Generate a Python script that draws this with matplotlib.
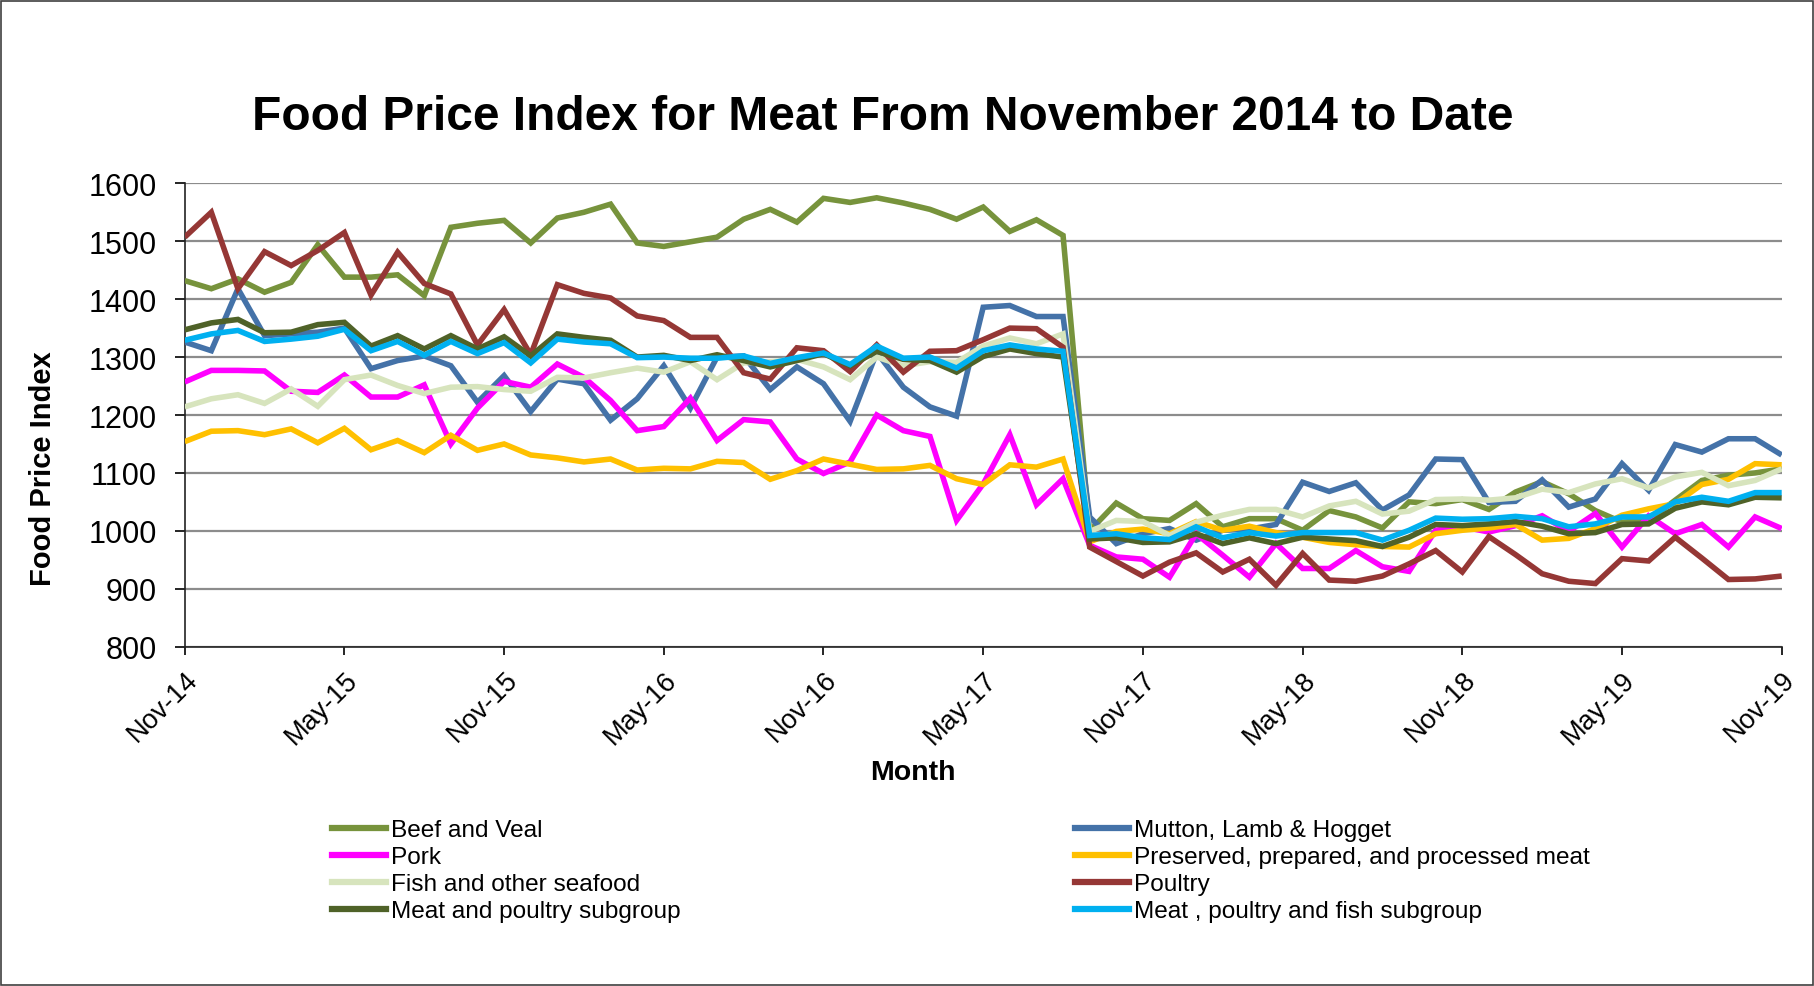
import matplotlib
matplotlib.use("Agg")
import matplotlib.pyplot as plt
from matplotlib.lines import Line2D
from matplotlib.patches import Rectangle

plt.rcParams['font.family'] = ['Liberation Sans', 'DejaVu Sans']

months = ["Nov-14", "May-15", "Nov-15", "May-16", "Nov-16", "May-17",
          "Nov-17", "May-18", "Nov-18", "May-19", "Nov-19"]

beef = [1432, 1418, 1435, 1412, 1429, 1494, 1438, 1438, 1442, 1406, 1524, 1531, 1536, 1497, 1540, 1550,
        1564, 1497, 1491, 1499, 1507, 1538, 1555, 1533, 1574, 1567, 1575, 1566, 1555, 1538, 1559,
        1517, 1537, 1510, 1000, 1048, 1021, 1018, 1047, 1007, 1021, 1021, 1001, 1035, 1024, 1005,
        1050, 1047, 1054, 1037, 1067, 1085, 1064, 1035, 1015, 1018, 1053, 1087, 1096, 1100, 1107]
mutton = [1326, 1311, 1418, 1337, 1340, 1343, 1350, 1280, 1294, 1302, 1285, 1222, 1268, 1206, 1262, 1254,
          1191, 1228, 1285, 1212, 1300, 1302, 1244, 1283, 1254, 1189, 1308, 1248, 1214, 1198, 1386,
          1389, 1370, 1370, 1024, 978, 995, 1004, 984, 1001, 1003, 1011, 1084, 1068, 1083, 1036,
          1062, 1124, 1123, 1049, 1051, 1088, 1041, 1055, 1116, 1070, 1149, 1136, 1159, 1159, 1131]
pork = [1257, 1277, 1277, 1276, 1241, 1239, 1269, 1231, 1231, 1252, 1150, 1212, 1258, 1248, 1288, 1265,
        1225, 1173, 1180, 1229, 1156, 1192, 1188, 1124, 1099, 1119, 1200, 1173, 1163, 1018, 1081,
        1166, 1045, 1090, 975, 955, 951, 920, 995, 958, 920, 978, 935, 935, 966, 938,
        930, 1001, 1007, 998, 1009, 1026, 999, 1030, 972, 1026, 995, 1011, 972, 1024, 1004]
preserved = [1154, 1172, 1173, 1166, 1176, 1152, 1177, 1140, 1156, 1135, 1165, 1139, 1150, 1131, 1126, 1119,
             1124, 1105, 1108, 1107, 1120, 1118, 1089, 1104, 1124, 1115, 1106, 1107, 1113, 1090, 1080,
             1114, 1110, 1124, 981, 999, 1003, 995, 1016, 1001, 1008, 997, 989, 980, 976, 973,
             972, 995, 1001, 1005, 1011, 984, 987, 1004, 1027, 1038, 1047, 1080, 1089, 1116, 1114]
fish = [1214, 1228, 1235, 1220, 1245, 1215, 1261, 1269, 1251, 1237, 1248, 1249, 1244, 1241, 1265, 1264,
        1273, 1281, 1274, 1292, 1261, 1290, 1292, 1296, 1283, 1261, 1300, 1285, 1292, 1291, 1319,
        1333, 1323, 1340, 999, 1018, 1016, 992, 1015, 1027, 1037, 1037, 1024, 1043, 1051, 1029,
        1034, 1054, 1055, 1053, 1057, 1072, 1066, 1081, 1090, 1074, 1093, 1101, 1078, 1087, 1107]
poultry = [1507, 1550, 1418, 1482, 1458, 1484, 1515, 1407, 1481, 1427, 1409, 1321, 1382, 1304, 1425, 1410,
           1402, 1371, 1363, 1334, 1334, 1273, 1262, 1316, 1311, 1275, 1321, 1274, 1310, 1311, 1330,
           1350, 1349, 1317, 972, 947, 922, 946, 962, 929, 951, 906, 961, 915, 913, 922,
           943, 966, 929, 990, 959, 926, 913, 909, 952, 948, 989, 953, 916, 917, 922]
meat_poultry = [1347, 1359, 1365, 1342, 1343, 1356, 1360, 1319, 1337, 1314, 1337, 1314, 1335, 1302, 1340, 1334,
                1329, 1300, 1303, 1294, 1304, 1294, 1283, 1294, 1306, 1285, 1310, 1296, 1294, 1274, 1301,
                1314, 1306, 1300, 986, 988, 980, 981, 995, 978, 988, 978, 989, 986, 983, 973,
                989, 1011, 1009, 1012, 1016, 1008, 995, 997, 1011, 1012, 1039, 1050, 1045, 1058, 1057]
meat_poultry_fish = [1329, 1340, 1346, 1327, 1331, 1336, 1348, 1311, 1327, 1303, 1327, 1306, 1325, 1290, 1331, 1326,
                     1323, 1299, 1300, 1298, 1298, 1302, 1289, 1299, 1307, 1287, 1319, 1298, 1300, 1281, 1311,
                     1321, 1314, 1310, 992, 995, 988, 985, 1007, 988, 997, 991, 997, 997, 997, 984,
                     1001, 1022, 1020, 1021, 1025, 1021, 1007, 1012, 1024, 1024, 1050, 1058, 1051, 1066, 1066]

series = [
    ("Beef and Veal", beef, "#77933C"),
    ("Mutton, Lamb & Hogget", mutton, "#4472A8"),
    ("Pork", pork, "#FF00FF"),
    ("Preserved, prepared, and processed meat", preserved, "#FFC000"),
    ("Fish and other seafood", fish, "#D7E4BD"),
    ("Poultry", poultry, "#953735"),
    ("Meat and poultry subgroup", meat_poultry, "#4F6228"),
    ("Meat , poultry and fish subgroup", meat_poultry_fish, "#00B0F0"),
]

W, H = 1815, 987
fig = plt.figure(figsize=(W / 100, H / 100), dpi=100)
ax = fig.add_axes([184.7 / W, 1 - 647.7 / H, (1781.7 - 184.7) / W, (647.7 - 184.3) / H])

handles = {}
for name, vals, col in series:
    x = list(range(len(vals)))
    ln, = ax.plot(x, vals, color=col, lw=4.0, solid_joinstyle='miter', solid_capstyle='butt', zorder=3)
    handles[name] = ln

ax.set_xlim(0, 60)
ax.set_ylim(800, 1600)
ax.set_yticks(range(800, 1601, 100))
ax.set_xticks(range(0, 61, 6))
ax.set_xticklabels(months, rotation=45, ha='right', va='top', rotation_mode='anchor', fontsize=19.5)
ax.tick_params(axis='y', labelsize=22, length=7, width=1.2, direction='out', pad=13)
ax.tick_params(axis='x', length=6, width=1.2, direction='out', pad=8)
ax.yaxis.grid(True, color='#8C8C8C', lw=1.6, zorder=1)
ax.set_axisbelow(True)
for s in ['top', 'right']:
    ax.spines[s].set_visible(False)
for s in ['left', 'bottom']:
    ax.spines[s].set_color('#222222')
    ax.spines[s].set_linewidth(1.2)

fig.text(913 / W, 1 - 773 / H, "Month", fontsize=20.5, fontweight='bold', ha='center', va='center')
fig.text(43 / W, 1 - 469 / H, "Food Price Index", fontsize=21, fontweight='bold', ha='center', va='center',
         rotation=90)
fig.text(0.5 * (252 + 1513) / W, 1 - 117 / H, "Food Price Index for Meat From November 2014 to Date",
         fontsize=34.5, fontweight='bold', ha='center', va='center')

col1 = ["Beef and Veal", "Pork", "Fish and other seafood", "Meat and poultry subgroup"]
col2 = ["Mutton, Lamb & Hogget", "Preserved, prepared, and processed meat", "Poultry",
        "Meat , poultry and fish subgroup"]
for names, xa in [(col1, 332 / W), (col2, 1075 / W)]:
    hs = [Line2D([], [], color=handles[n].get_color(), lw=4.5) for n in names]
    fig.legend(hs, names, loc='upper left', bbox_to_anchor=(xa, 1 - 820 / H), frameon=False,
               fontsize=17.6, handlelength=2.2, handletextpad=0.2, labelspacing=0.2,
               borderpad=0, borderaxespad=0)

fig.add_artist(Rectangle((1 / W, 1 / H), (W - 3) / W, (H - 3) / H, transform=fig.transFigure,
                         fill=False, edgecolor='#404040', lw=1.2))

fig.savefig("out.png", dpi=100)
